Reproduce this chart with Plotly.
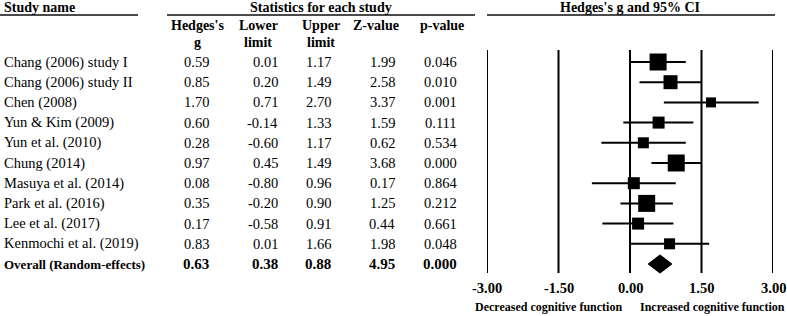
import plotly.graph_objects as go

studies = ["Chang (2006) study I", "Chang (2006) study II", "Chen (2008)", "Yun & Kim (2009)",
           "Yun et al. (2010)", "Chung (2014)", "Masuya et al. (2014)", "Park et al. (2016)",
           "Lee et al. (2017)", "Kenmochi et al. (2019)"]
hedges_g = [0.59, 0.85, 1.70, 0.60, 0.28, 0.97, 0.08, 0.35, 0.17, 0.83]
lower = [0.01, 0.20, 0.71, -0.14, -0.60, 0.45, -0.80, -0.20, -0.58, 0.01]
upper = [1.17, 1.49, 2.70, 1.33, 1.17, 1.49, 0.96, 0.90, 0.91, 1.66]
z_value = [1.99, 2.58, 3.37, 1.59, 0.62, 3.68, 0.17, 1.25, 0.44, 1.98]
p_value = [0.046, 0.010, 0.001, 0.111, 0.534, 0.000, 0.864, 0.212, 0.661, 0.048]
weights = [17, 14, 10, 12, 11, 17, 12, 17, 12, 11]  # relative square size (px)

overall_label = "Overall (Random-effects)"
overall = {"g": 0.63, "lower": 0.38, "upper": 0.88, "z": 4.95, "p": 0.000}

tick_vals = [-3.0, -1.5, 0.0, 1.5, 3.0]
tick_labels = ["-3.00", "-1.50", "0.00", "1.50", "3.00"]

W, H = 787, 316
FONT = "Liberation Serif"
ROW0, STEP = 62, 20.2  # pixel y of first row, row spacing
REG = 14.5
BOLD = 14


def px(xpix):
    return xpix / W


def row_of(ypix):
    return (ypix - ROW0) / STEP


n = len(studies)
ov_row = n
fig = go.Figure()

# CI lines
xs, ys = [], []
for i in range(n):
    xs += [lower[i], upper[i], None]
    ys += [i, i, None]
fig.add_trace(go.Scatter(x=xs, y=ys, mode="lines", line=dict(color="black", width=2),
                         hoverinfo="skip", showlegend=False))
# squares
fig.add_trace(go.Scatter(x=hedges_g, y=list(range(n)), mode="markers",
                         marker=dict(symbol="square", size=weights, color="black", opacity=1,
                                     line=dict(width=0)),
                         showlegend=False))
# diamond
dh = 0.45
fig.add_trace(go.Scatter(x=[overall["lower"], overall["g"], overall["upper"], overall["g"], overall["lower"]],
                         y=[ov_row, ov_row - dh, ov_row, ov_row + dh, ov_row],
                         mode="lines", fill="toself", fillcolor="black",
                         line=dict(color="black", width=1), showlegend=False))

# vertical reference lines
y_top = row_of(50)
y_bot = row_of(273)
for t in tick_vals:
    fig.add_shape(type="line", xref="x", yref="y", x0=t, x1=t, y0=y_top, y1=y_bot,
                  line=dict(color="black", width=2))

anns = []


def add_text(x, y, text, anchor="left", bold=False, size=None, xref="paper"):
    if size is None:
        size = BOLD if bold else REG
    anns.append(dict(x=x, y=y, xref=xref, yref="y", text=(f"<b>{text}</b>" if bold else text),
                     showarrow=False, xanchor=anchor, yanchor="middle",
                     font=dict(family=FONT, size=size, color="black")))


# headers
hdr_row = row_of(7)
add_text(px(2), hdr_row, "Study name", bold=True)
add_text(px(321), hdr_row, "Statistics for each study", anchor="center", bold=True)
add_text(0.0, hdr_row, "Hedges's g and 95% CI", anchor="center", bold=True, xref="x")
h1 = row_of(25)
h2 = row_of(42)
col_centers = [197, 258, 321, 376, 442]
col_h1 = ["Hedges's", "Lower", "Upper", "Z-value", "p-value"]
col_h2 = ["g", "limit", "limit", "", ""]
for c, a, b in zip(col_centers, col_h1, col_h2):
    add_text(px(c), h1, a, anchor="center", bold=True)
    if b:
        add_text(px(c), h2, b, anchor="center", bold=True)

# header rules
for x0, x1 in [(0, 138), (167, 475), (487, 775)]:
    fig.add_shape(type="line", xref="paper", yref="paper", x0=px(x0), x1=px(x1),
                  y0=1 - 15 / H, y1=1 - 15 / H, line=dict(color="#4a4a4a", width=2))

# table rows
right_edges = [211, 280, 333, 397, 459]
for i in range(n):
    add_text(px(2), i, studies[i])
    vals = [f"{hedges_g[i]:.2f}", f"{lower[i]:.2f}", f"{upper[i]:.2f}", f"{z_value[i]:.2f}", f"{p_value[i]:.3f}"]
    for r, v in zip(right_edges, vals):
        add_text(px(r), i, v, anchor="right")
add_text(px(2), ov_row, overall_label, bold=True, size=13)
ov_vals = [f"{overall['g']:.2f}", f"{overall['lower']:.2f}", f"{overall['upper']:.2f}",
           f"{overall['z']:.2f}", f"{overall['p']:.3f}"]
for r, v in zip(right_edges, ov_vals):
    add_text(px(r), ov_row, v, anchor="right", bold=True, size=15)

# tick labels
tick_row = row_of(288)
for t, lab in zip(tick_vals, tick_labels):
    add_text(t, tick_row, lab, anchor="center", bold=True, size=14.5, xref="x")

lab_row = row_of(307)
add_text(px(548), lab_row, "Decreased cognitive function", anchor="center", bold=True, size=12)
add_text(px(712), lab_row, "Increased cognitive function", anchor="center", bold=True, size=12)

fig.update_layout(
    width=W, height=H, margin=dict(l=0, r=0, t=0, b=0),
    paper_bgcolor="white", plot_bgcolor="white",
    xaxis=dict(domain=[487 / W, 773 / W], range=[-3, 3], visible=False),
    yaxis=dict(domain=[0, 1], range=[row_of(H), row_of(0)], visible=False),
    annotations=anns, showlegend=False,
)
fig.write_html("out.html", config={"displayModeBar": False},
               post_script="document.body.style.margin='0px';document.body.style.overflow='hidden';")
